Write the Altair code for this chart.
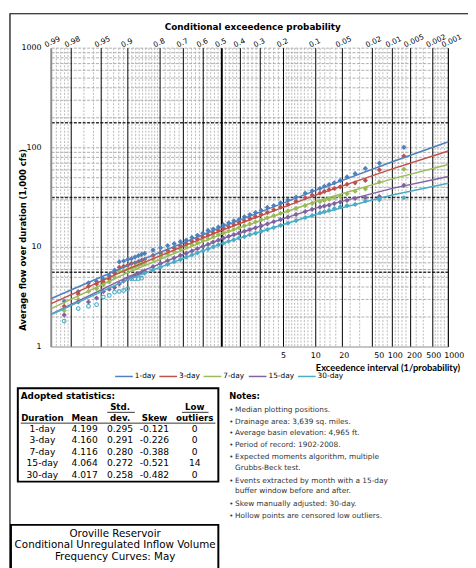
import altair as alt
import pandas as pd
from statistics import NormalDist

_nd = NormalDist()


def zq(p):
    """exceedance probability -> position on normal probability paper"""
    return _nd.inv_cdf(1.0 - p)


# ---------------- data ----------------
SERIES = ["1-day", "3-day", "7-day", "15-day", "30-day"]
COLORS = ["#4F81BD", "#C0504D", "#9BBB59", "#8064A2", "#4BACC6"]

# fitted frequency curves, read at these exceedance probabilities (1,000 cfs)
curve_p = [0.99, 0.9, 0.5, 0.1, 0.01, 0.001]
curve_1day = [3.07, 6.57, 16.0, 37.4, 72.3, 115.0]
curve_3day = [2.72, 6.04, 14.8, 33.5, 61.4, 92.7]
curve_7day = [2.43, 5.59, 13.6, 28.9, 48.7, 67.8]
curve_15day = [2.13, 5.06, 12.2, 24.8, 39.1, 51.5]
curve_30day = [2.12, 4.75, 10.9, 21.4, 33.5, 44.1]

# observed events (median plotting positions, exceedance probability)
point_p = [0.0065, 0.0158, 0.0251, 0.0345, 0.0438, 0.0531, 0.0624, 0.0717, 0.0810, 0.0903,
           0.1089, 0.1276, 0.1555, 0.1834, 0.2114, 0.2393, 0.2672, 0.2952, 0.3231, 0.3510,
           0.3790, 0.4069, 0.4348, 0.4628, 0.4907, 0.5186, 0.5466, 0.5745, 0.6024, 0.6304,
           0.6583, 0.6862, 0.7142, 0.7421, 0.7700, 0.7980, 0.8259, 0.8538, 0.8631, 0.8724,
           0.8818, 0.8911, 0.9004, 0.9097, 0.9190, 0.9283, 0.9376, 0.9469, 0.9562, 0.9655,
           0.9749, 0.9842]
points_1day = [101, 70, 62, 55, 51, 47, 44.5, 42.7, 41, 39,
               37, 35, 32, 30, 28, 26.3, 25.2, 23.6, 22.4, 21.3,
               20.3, 19.0, 18.5, 17.6, 16.8, 16.0, 15.3, 14.8, 13.9, 13.2,
               12.6, 11.8, 11.4, 10.9, 10.4, 9.9, 9.4, 8.7, 8.5, 8.25,
               8.0, 7.7, 7.55, 7.3, 7.15, 5.9, 5.2, 4.8, 4.55, 4.4,
               3.6, 2.87]
points_3day = [82.7, 60, 47, 44.5, 43, 40.5, 39, 38, 36.5, 35,
               33.5, 31.5, 29, 27, 25.3, 23.8, 22.5, 21.4, 20.4, 19.4,
               18.5, 17.7, 16.9, 16.1, 15.4, 14.7, 14.0, 13.3, 12.7, 12.1,
               11.5, 10.9, 10.3, 9.8, 9.3, 8.8, 8.3, 7.6, 7.4, 7.2,
               7.0, 6.9, 6.6, 6.45, 6.3, 5.5, 4.8, 4.5, 4.3, 4.05,
               3.4, 2.56]
points_7day = [61, 45.3, 38.6, 36.6, 34.5, 32.5, 31.5, 30.5, 29.6, 28.8,
               27.6, 26.3, 24.6, 23.2, 22.0, 20.8, 19.8, 18.9, 18.0, 17.2,
               16.5, 15.8, 15.2, 14.6, 14.0, 13.4, 12.8, 12.2, 11.7, 11.1,
               10.6, 10.1, 9.6, 9.1, 8.6, 8.1, 7.6, 7.0, 6.8, 6.6,
               6.4, 6.2, 6.0, 5.85, 5.7, 5.0, 4.5, 4.2, 3.85, 3.61,
               3.0, 2.32]
points_15day = [42, 32.4, 31.5, 31, 29.6, 28.5, 27.5, 26.5, 26, 25.3,
                24.1, 22.9, 21.4, 20.1, 19.0, 18.1, 17.2, 16.4, 15.7, 15.1,
                14.5, 13.9, 13.4, 12.9, 12.4, 11.8, 11.3, 10.7, 10.2, 9.7,
                9.2, 8.75, 8.3, 7.8, 7.35, 6.9, 6.4, 5.8, 5.6, 5.4,
                5.2, 5.0, 4.8, 4.6, 4.3, 3.95, 3.8, 3.6, 3.1, 2.83,
                2.83, 2.1]
points_30day = [31.5, 30, 29.2, 27, 26.3, 25.5, 24.5, 23.5, 22.8, 22.2,
                20.9, 19.9, 18.6, 17.5, 16.6, 15.8, 15.1, 14.5, 13.9, 13.4,
                12.8, 12.4, 11.9, 11.5, 11.0, 10.6, 10.1, 9.65, 9.2, 8.8,
                8.4, 8.0, 7.55, 7.15, 6.75, 6.35, 5.95, 5.5]
# censored low outliers (hollow points), last 14 plotting positions
censored_values = [4.9, 4.85, 4.82, 4.82, 3.84, 3.69, 3.61, 3.55, 3.29, 3.17,
                   2.66, 2.56, 2.43, 1.82]

top_p = [0.99, 0.98, 0.95, 0.9, 0.8, 0.7, 0.6, 0.5, 0.4, 0.3, 0.2, 0.1, 0.05,
         0.02, 0.01, 0.005, 0.002, 0.001]
top_labels = ["0.99", "0.98", "0.95", "0.9", "0.8", "0.7", "0.6", "0.5", "0.4",
              "0.3", "0.2", "0.1", "0.05", "0.02", "0.01", "0.005", "0.002", "0.001"]
bottom_p = [0.2, 0.1, 0.05, 0.02, 0.01, 0.005, 0.002, 0.001]
bottom_labels = ["5", "10", "20", "50", "100", "200", "500", "1000"]
y_labels = [1, 10, 100, 1000]

major_grid_p = [0.98, 0.95, 0.9, 0.8, 0.7, 0.6, 0.4, 0.3, 0.2, 0.1, 0.05, 0.02,
                0.01, 0.005, 0.002]
minor_grid_p = [0.988, 0.986, 0.984, 0.982, 0.97, 0.96, 0.94, 0.93, 0.92, 0.91,
                0.89, 0.88, 0.87, 0.86, 0.85, 0.84, 0.83, 0.82, 0.81,
                0.78, 0.76, 0.74, 0.72, 0.68, 0.66, 0.64, 0.62, 0.58, 0.56, 0.54, 0.52,
                0.48, 0.46, 0.44, 0.42, 0.38, 0.36, 0.34, 0.32, 0.28, 0.26, 0.24, 0.22,
                0.19, 0.18, 0.17, 0.16, 0.15, 0.14, 0.13, 0.12, 0.11,
                0.09, 0.08, 0.07, 0.06, 0.04, 0.03, 0.018, 0.016, 0.014, 0.012,
                0.009, 0.008, 0.007, 0.006, 0.004, 0.003, 0.0018, 0.0016, 0.0014, 0.0012]
minor_grid_y = [2, 3, 4, 5, 6, 7, 8, 9, 10, 20, 30, 40, 50, 60, 70, 80, 90, 100,
                200, 300, 400, 500, 600, 700, 800, 900, 1000]
dark_grid_y = [5.62, 31.6, 178]

stat_duration = ["1-day", "3-day", "7-day", "15-day", "30-day"]
stat_mean = ["4.199", "4.160", "4.116", "4.064", "4.017"]
stat_std = ["0.295", "0.291", "0.280", "0.272", "0.258"]
stat_skew = ["-0.121", "-0.226", "-0.388", "-0.521", "-0.482"]
stat_outliers = ["0", "0", "0", "14", "0"]

notes = ["Median plotting positions.",
         "Drainage area: 3,639 sq. miles.",
         "Average basin elevation: 4,965 ft.",
         "Period of record: 1902-2008.",
         "Expected moments algorithm, multiple",
         "Grubbs-Beck test.",
         "Events extracted by month with a 15-day",
         "buffer window before and after.",
         "Skew manually adjusted: 30-day.",
         "Hollow points are censored low outliers."]
note_bullet = [True, True, True, True, True, False, True, False, True, True]

caption = ["Oroville Reservoir", "Conditional Unregulated Inflow Volume",
           "Frequency Curves: May"]

# ---------------- frames ----------------
curves = [curve_1day, curve_3day, curve_7day, curve_15day, curve_30day]
points = [points_1day, points_3day, points_7day, points_15day, points_30day]

curve_df = pd.DataFrame([{"series": s, "z": zq(p), "flow": v}
                         for s, vals in zip(SERIES, curves)
                         for p, v in zip(curve_p, vals)])
pts_df = pd.DataFrame([{"series": s, "z": zq(p), "flow": v}
                       for s, vals in zip(SERIES, points)
                       for p, v in zip(point_p, vals)])
cens_df = pd.DataFrame([{"z": zq(p), "flow": v}
                        for p, v in zip(point_p[len(point_p) - len(censored_values):],
                                        censored_values)])

OX, OY = 52, 44  # plot origin on page
W, H = 404, 304
FONT = "DejaVu Sans"

xs = alt.Scale(domain=[zq(0.99), zq(0.001)], nice=False, zero=False)
ys = alt.Scale(type="log", domain=[1, 1000], nice=False)
cscale = alt.Scale(domain=SERIES, range=COLORS)


def vrules(plist, color, width, dash=None):
    kw = dict(color=color, strokeWidth=width)
    if dash:
        kw["strokeDash"] = dash
    df = pd.DataFrame({"z": [zq(p) for p in plist]})
    return alt.Chart(df).mark_rule(**kw).encode(
        x=alt.X("z:Q", scale=xs, axis=None))


def hrules(vals, color, width, dash=None):
    kw = dict(color=color, strokeWidth=width)
    if dash:
        kw["strokeDash"] = dash
    df = pd.DataFrame({"v": vals})
    return alt.Chart(df).mark_rule(**kw).encode(
        y=alt.Y("v:Q", scale=ys, axis=None))


def txt(s, x, y, size=8, weight="normal", align="left", color="black", font=FONT,
        angle=None):
    kw = dict(fontSize=size, fontWeight=weight, align=align, baseline="middle",
              color=color, font=font)
    if angle is not None:
        kw["angle"] = angle
    return alt.Chart(pd.DataFrame({"t": [s]})).mark_text(**kw).encode(
        x=alt.value(x - OX), y=alt.value(y - OY), text="t:N")


def box(x0, y0, x1, y1, sw):
    return alt.Chart(pd.DataFrame({"a": [0]})).mark_rect(
        filled=False, color="black", strokeWidth=sw).encode(
        x=alt.value(x0 - OX), x2=alt.value(x1 - OX),
        y=alt.value(y0 - OY), y2=alt.value(y1 - OY))


def uline(x0, x1, y, sw=1, color="black"):
    return alt.Chart(pd.DataFrame({"a": [0]})).mark_rule(
        color=color, strokeWidth=sw).encode(
        x=alt.value(x0 - OX), x2=alt.value(x1 - OX), y=alt.value(y - OY))


layers = []
# grid
layers.append(hrules(minor_grid_y, "#9a9a9a", 0.8, [3, 1.5]))
layers.append(vrules(minor_grid_p, "#a8a8a8", 0.8, [2, 1.5]))
layers.append(hrules(dark_grid_y, "#333333", 1.5, [3, 1.5]))
layers.append(vrules(major_grid_p, "black", 1.0))
layers.append(vrules([0.5], "black", 2.0))
layers.append(vrules([0.99], "#8c8c8c", 2.0))
layers.append(vrules([0.001], "black", 1.2))
layers.append(hrules([1], "#8c8c8c", 1.2))

# points
layers.append(alt.Chart(pts_df).mark_point(
    shape="diamond", filled=True, size=28, opacity=1).encode(
    x=alt.X("z:Q", scale=xs, axis=None),
    y=alt.Y("flow:Q", scale=ys, axis=None),
    color=alt.Color("series:N", scale=cscale, legend=None)))
layers.append(alt.Chart(cens_df).mark_point(
    shape="circle", filled=False, size=14, strokeWidth=1.1, color="#4BACC6",
    opacity=1).encode(
    x=alt.X("z:Q", scale=xs, axis=None),
    y=alt.Y("flow:Q", scale=ys, axis=None)))

# fitted curves
layers.append(alt.Chart(curve_df).mark_line(strokeWidth=1.5).encode(
    x=alt.X("z:Q", scale=xs, axis=None),
    y=alt.Y("flow:Q", scale=ys, axis=None),
    color=alt.Color("series:N", scale=cscale, legend=None),
    detail="series:N"))

# y axis labels and title
layers.append(alt.Chart(pd.DataFrame({"v": y_labels})).mark_text(
    align="right", baseline="middle", fontSize=8, font=FONT, color="black").encode(
    y=alt.Y("v:Q", scale=ys, axis=None), x=alt.value(-10), text=alt.Text("v:Q", format="d")))
layers.append(txt("Average flow over duration (1,000 cfs)", 23, 239, 8.5, "bold",
                  "center", angle=270))

# top (probability) labels
top_df = pd.DataFrame({"z": [zq(p) for p in top_p], "lab": top_labels})
layers.append(alt.Chart(top_df).mark_text(
    angle=335, align="left", baseline="bottom", dx=-5, dy=0, fontSize=7.5,
    font=FONT, color="black").encode(
    x=alt.X("z:Q", scale=xs, axis=None), y=alt.value(-1), text="lab:N"))

# bottom (return interval) labels
bottom_dx = [0, 0, 2, 7, 3, 4, 1, 6]
for p, lab, dx in zip(bottom_p, bottom_labels, bottom_dx):
    layers.append(alt.Chart(pd.DataFrame({"z": [zq(p)], "lab": [lab]})).mark_text(
        align="center", baseline="middle", dx=dx, fontSize=8, font=FONT,
        color="black").encode(
        x=alt.X("z:Q", scale=xs, axis=None), y=alt.value(357 - OY), text="lab:N"))

# titles
layers.append(txt("Conditional  exceedence probability", 257, 23, 9, "bold", "center"))
layers.append(txt("Exceedence interval (1/probability)", 468, 369, 9.5, "bold",
                  "right", font="Lato"))

# legend
legend_x = [117, 162, 207, 253, 303]
for lx, s, c in zip(legend_x, SERIES, COLORS):
    layers.append(uline(lx, lx + 18, 378, 1.5, c))
    layers.append(txt(s, lx + 20, 378, 7.5))

# outer border
layers.append(box(10, 9, 500, 600, 1.2))

# statistics table
layers.append(box(18, 390, 222, 485, 2))
layers.append(txt("Adopted statistics:", 21, 398, 9, "bold"))
col_x = [43, 86, 122, 157, 198]
layers.append(txt("Std.", col_x[2], 409, 8.8, "bold", "center"))
layers.append(txt("Low", col_x[4], 409, 8.8, "bold", "center"))
layers.append(uline(109, 137, 414.5, 0.8))
layers.append(uline(185, 212, 414.5, 0.8))
for cx, h in zip(col_x, ["Duration", "Mean", "dev.", "Skew", "outliers"]):
    layers.append(txt(h, cx, 420, 8.8, "bold", "center"))
layers.append(uline(21, 219, 425.5, 0.8))
row_y = [431, 442.75, 454.5, 466.25, 478]
for cx, col in zip(col_x, [stat_duration, stat_mean, stat_std, stat_skew, stat_outliers]):
    for yy, s in zip(row_y, col):
        layers.append(txt(s, cx, yy, 9.3, "normal", "center"))

# notes
layers.append(txt("Notes:", 233, 398, 8.5, "bold"))
note_y = [412, 424, 436, 448, 460, 471, 484, 495, 508, 520]
for yy, s, b in zip(note_y, notes, note_bullet):
    if b:
        layers.append(txt("\u2022", 233, yy, 7, color="#333333"))
    layers.append(txt(s, 239, yy, 7.5, color="#333333"))

# caption box
layers.append(box(11, 529, 222, 600, 2))
for yy, s in zip([538, 550, 562], caption):
    layers.append(txt(s, 117, yy, 10.5, "normal", "center"))

chart = alt.layer(*layers).properties(
    width=W, height=H,
    autosize=alt.AutoSizeParams(type="none"),
    padding={"left": 44, "top": 36, "right": 20, "bottom": 220},
    background="white",
).configure_view(strokeWidth=0)

chart.save("out.html", embed_options={"renderer": "svg", "actions": False})
